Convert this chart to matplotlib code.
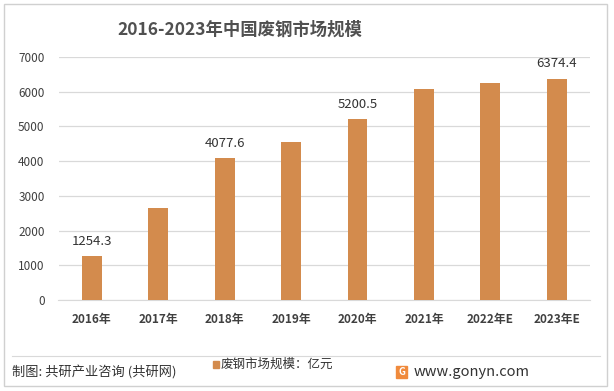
import matplotlib.pyplot as plt
from matplotlib.patches import Rectangle

plt.rcParams['font.family'] = ['Noto Sans CJK SC', 'DejaVu Sans']

years = ['2016年', '2017年', '2018年', '2019年', '2020年', '2021年', '2022年E', '2023年E']
values = [1254.3, 2650, 4077.6, 4550, 5200.5, 6080, 6250, 6374.4]
labelled = {0: '1254.3', 2: '4077.6', 4: '5200.5', 7: '6374.4'}
yticks = [0, 1000, 2000, 3000, 4000, 5000, 6000, 7000]

W, H = 614, 391
bar_color = '#D38B4D'
text_color = '#404040'

fig = plt.figure(figsize=(W / 100, H / 100), dpi=100)
ax = fig.add_axes([58.5 / W, 1 - 300 / H, (590 - 58.5) / W, (300 - 57) / H])

x = range(len(years))
ax.bar(x, values, width=0.3, color=bar_color, zorder=3)
for i, txt in labelled.items():
    ax.text(i, values[i] + 250, txt, ha='center', va='bottom', fontsize=9.5,
            color='#333333', fontweight='medium')

ax.set_xlim(-0.5, len(years) - 0.5)
ax.set_ylim(0, 7000)
ax.set_yticks(yticks)
ax.set_yticklabels([str(v) for v in yticks], fontsize=8.5, color=text_color,
                   fontweight='medium')
ax.set_xticks(list(x))
ax.set_xticklabels(years, fontsize=8.5, color=text_color, fontweight='bold')
ax.grid(axis='y', color='#D9D9D9', linewidth=0.9, zorder=0)
ax.tick_params(length=0)
ax.tick_params(axis='x', pad=9)
ax.tick_params(axis='y', pad=10)
for s in ['top', 'right', 'left']:
    ax.spines[s].set_visible(False)
ax.spines['bottom'].set_color('#D9D9D9')

# title
fig.text(240 / W, 1 - 30 / H, '2016-2023年中国废钢市场规模', ha='center', va='center',
         fontsize=12.5, fontweight='bold', color='#505050')

# outer frame and footer separator
fig.patches.append(Rectangle((4 / W, 1 - 386 / H), 603 / W, 382 / H, transform=fig.transFigure,
                             fill=False, edgecolor='#D0D0D0', linewidth=1))
fig.add_artist(plt.Line2D([12 / W, 600 / W], [1 - 356 / H, 1 - 356 / H], color='#D9D9D9',
                          linewidth=0.8))

# footer
fig.text(12 / W, 1 - 373 / H, '制图: 共研产业咨询 (共研网)', ha='left', va='center',
         fontsize=9.5, color='#333333')
fig.patches.append(Rectangle((213 / W, 1 - 368 / H), 6 / W, 7 / H, transform=fig.transFigure,
                             color=bar_color))
fig.text(221 / W, 1 - 364 / H, '废钢市场规模：亿元', ha='left', va='center',
         fontsize=9, color='#333333')
fig.patches.append(Rectangle((396 / W, 1 - 378 / H), 11 / W, 12 / H, transform=fig.transFigure,
                             color='#F08A3C'))
fig.text(401.5 / W, 1 - 372 / H, 'G', ha='center', va='center', fontsize=7,
         fontweight='bold', color='white')
fig.text(414 / W, 1 - 372 / H, 'www.gonyn.com', ha='left', va='center',
         fontsize=10.5, color='#333333')

fig.savefig('out.png', dpi=100)
